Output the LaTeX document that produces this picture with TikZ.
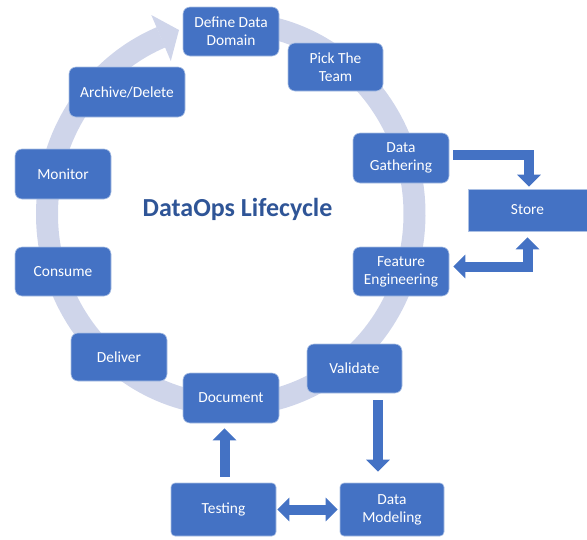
\documentclass[tikz,border=0pt]{standalone}
\usepackage{fontspec}
\setmainfont{Carlito}
\usetikzlibrary{arrows.meta,calc}
\definecolor{boxblue}{HTML}{4472C4}
\definecolor{ringcol}{HTML}{CFD5EA}
\definecolor{titleblue}{HTML}{2F5597}
\tikzset{
  stage/.style={rectangle, rounded corners=7pt, fill=boxblue, draw=white!55!boxblue, line width=0.6pt,
    text=white, align=center, font=\fontsize{15.4}{18}\selectfont, inner sep=0pt},
  barrow/.style={draw=boxblue, line width=10pt, line cap=butt, line join=miter},
  tipb/.tip={Triangle[length=12pt,width=23pt]}
}
\begin{document}
\begin{tikzpicture}[x=1pt,y=1pt]
\useasboundingbox (0,0) rectangle (587,-539);
% ring arrow
\draw[ringcol, line width=22pt, line cap=butt]
  ($(230.75,-214)+(85:183.75 and 191)$) arc[start angle=85, end angle=-247.7, x radius=183.75, y radius=191];
\fill[ringcol] (151.3,-15) -- (179,-30) -- (170.8,-61) -- cycle;
% title
\node[text=titleblue, font=\fontsize{26}{30}\selectfont\bfseries] (title) at (237.5,-209) {DataOps Lifecycle};
% stages
\node[stage, minimum width=96pt, minimum height=49pt] (dd) at (231,-31.5) {Define Data\\Domain};
\node[stage, minimum width=95pt, minimum height=48pt] (team) at (335.5,-67) {Pick The\\Team};
\node[stage, minimum width=96pt, minimum height=50pt] (gather) at (401,-158) {Data\\Gathering};
\node[stage, rounded corners=0pt, minimum width=119pt, minimum height=42pt] (store) at (527.5,-210) {Store};
\node[stage, minimum width=96pt, minimum height=49pt] (feat) at (401,-271.5) {Feature\\Engineering};
\node[stage, minimum width=95pt, minimum height=49pt] (valid) at (354.5,-368.5) {Validate};
\node[stage, minimum width=96pt, minimum height=50pt] (doc) at (231,-398) {Document};
\node[stage, rounded corners=4pt, minimum width=105pt, minimum height=53pt] (testing) at (223.5,-509.5) {Testing};
\node[stage, rounded corners=4pt, minimum width=104pt, minimum height=53pt] (model) at (392,-509.5) {Data\\Modeling};
\node[stage, minimum width=96pt, minimum height=48pt] (deliver) at (119,-357) {Deliver};
\node[stage, minimum width=96pt, minimum height=49pt] (consume) at (63,-271.5) {Consume};
\node[stage, minimum width=96pt, minimum height=50pt] (monitor) at (63,-174) {Monitor};
\node[stage, minimum width=116pt, minimum height=50pt] (archive) at (127,-92) {Archive/Delete};
% connectors
\draw[barrow, -tipb] ($(gather.east)+(4,3.5)$) -| ($(store.north)+(1.5,2)$);
\draw[barrow, tipb-tipb] ($(feat.east)+(4,5)$) -| ($(store.south)+(0,-6)$);
\coordinate (vs) at ($(valid.south)+(23.5,-7)$);
\draw[barrow, -tipb] (vs) -- (vs |- {$(model.north)+(0,11)$});
\draw[barrow, tipb-tipb] ($(testing.east)+(1,0)$) -- ($(model.west)+(-2,0)$);
\coordinate (ts) at ($(testing.north)+(1,6)$);
\draw[barrow, -tipb] (ts) -- (ts |- {$(doc.south)+(0,-5)$});
\end{tikzpicture}
\end{document}
